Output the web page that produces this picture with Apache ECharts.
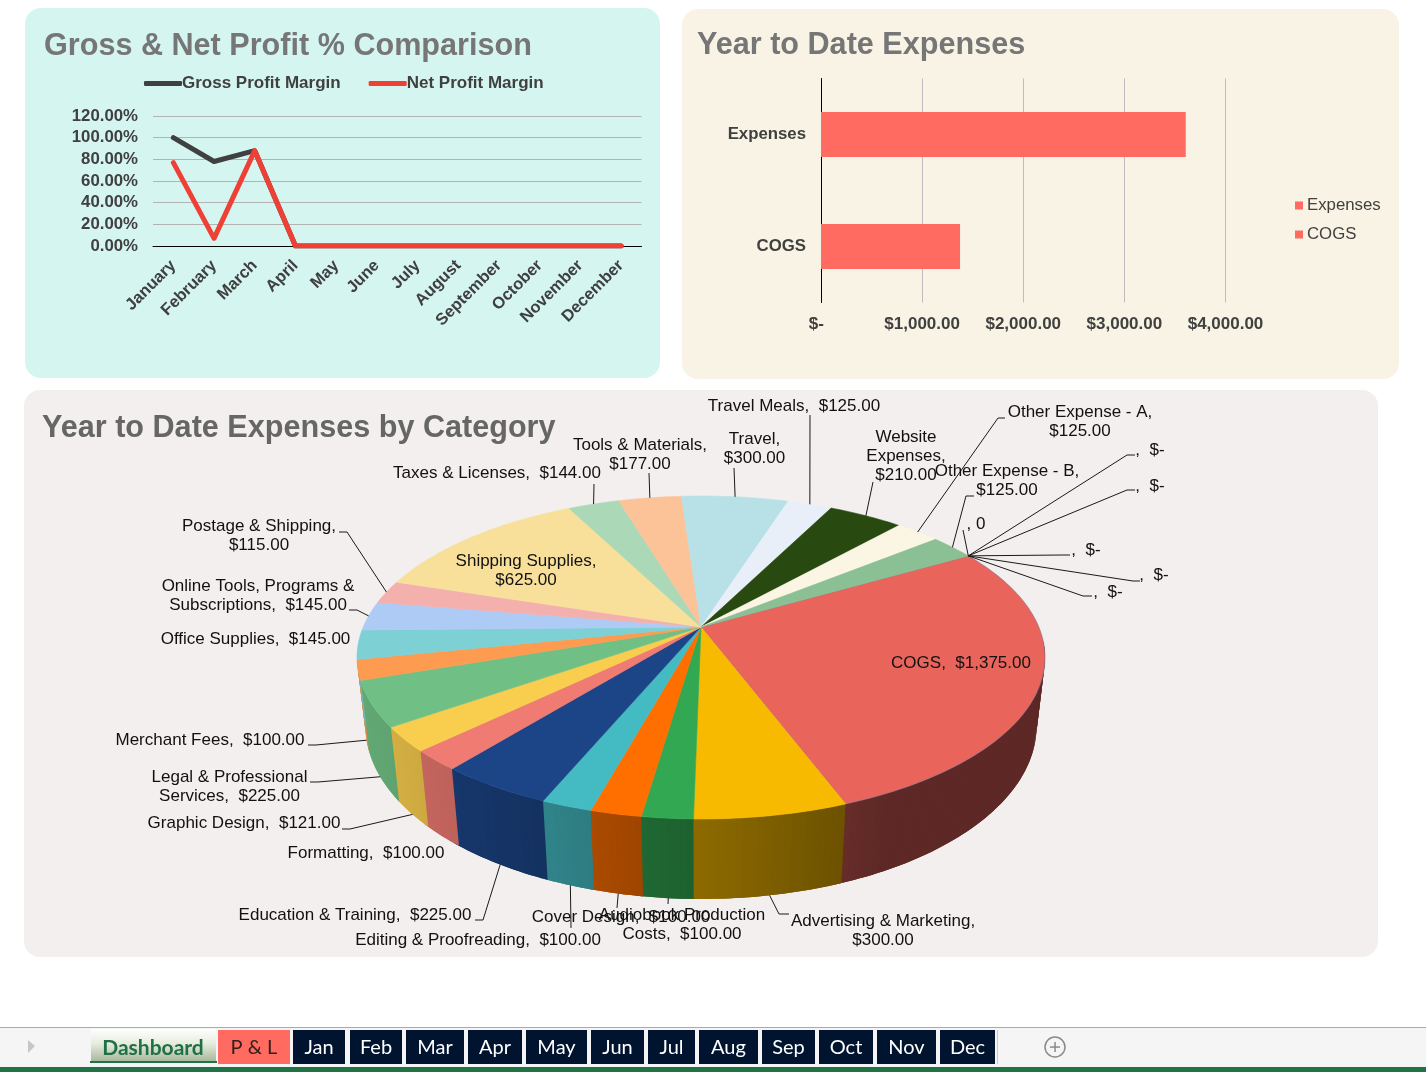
<!DOCTYPE html>
<html><head><meta charset="utf-8">
<style>html,body{margin:0;padding:0;background:#fff}#c{width:1426px;height:1072px}</style>
<script src="https://cdn.jsdelivr.net/npm/echarts@6/dist/echarts.min.js"></script>
</head><body><div id="c"></div>
<script>
// ---------- data ----------
const months = ['January','February','March','April','May','June','July','August','September','October','November','December'];
const grossMargin = [100,78,88,0,0,0,0,0,0,0,0,0];
const netMargin   = [77,7,88,0,0,0,0,0,0,0,0,0];
const ytdCategories = ['COGS','Expenses'];
const ytdCogs = [1375,'-'];
const ytdExpenses = ['-',3607];
const pieNames = ['COGS','Advertising & Marketing','Audiobook Production Costs','Cover Design','Editing & Proofreading','Education & Training','Formatting','Graphic Design','Legal & Professional Services','Merchant Fees','Office Supplies','Online Tools, Programs & Subscriptions','Postage & Shipping','Shipping Supplies','Taxes & Licenses','Tools & Materials','Travel','Travel Meals','Website Expenses','Other Expense - A','Other Expense - B','z1','z2','z3','z4','z5','z6'];
const pieValues = [1375,300,100,100,100,225,100,121,225,100,145,145,115,625,144,177,300,125,210,125,125,0,0,0,0,0,0];
const tabNames = ['Jan','Feb','Mar','Apr','May','Jun','Jul','Aug','Sep','Oct','Nov','Dec'];

// ---------- styling / layout (not data) ----------
const FONT = '"Liberation Sans", Arial, sans-serif';
const pieColors = ['#e9655c','#f7ba00','#32a852','#ff6f00','#44bac2','#1c4587','#ef7b72','#f9ce4e','#70c085','#fd9b50','#7dd0d4','#aecbf5','#f3b0ac','#f9e09a','#abd8b6','#fcc398','#b7e1e6','#e9eff9','#284a10','#fbf6e3','#8bbf94','#8bbf94','#8bbf94','#8bbf94','#8bbf94','#8bbf94','#8bbf94'];
const topDisc = {cx:701, cy:627, A:337.8, B:155.7, k:0.1889};
const botDisc = {cx:701, cy:694.2, A:329.8, B:167.1, k:0.184};
const START = -30, WALL_FROM = 5, WALL_TO = 170;
const total = pieValues.reduce((a,b)=>a+b,0);
const angles = []; { let a = START; for (const v of pieValues){ const s=v/total*360; angles.push([a,a+s]); a+=s; } }
function proj(d,deg){ const t=deg*Math.PI/180,u=Math.cos(t),v=Math.sin(t),w=1-d.k*v; return [d.cx+d.A*u/w, d.cy+d.B*v/w]; }
function arc(d,a0,a1){ const pts=[],n=Math.max(1,Math.ceil(Math.abs(a1-a0))); for(let i=0;i<=n;i++) pts.push(proj(d,a0+(a1-a0)*i/n)); return pts; }
function shade(hex,m){ const n=parseInt(hex.slice(1),16); const f=s=>Math.round(((n>>s)&255)*m); return `rgb(${f(16)},${f(8)},${f(0)})`; }
const wallShade = x => Math.max(0.40, Math.min(0.9, 0.875-(x-370)*0.000925));
// label text, centre x, first line y, elbow points of the leader
const pieLabels = [
 {t:['COGS,  $1,375.00'],x:961,y:663},
 {t:['Advertising & Marketing,','$300.00'],x:883,y:921,l:[[779,914],[789,914]]},
 {t:['Audiobook Production','Costs,  $100.00'],x:682,y:915,l:[[668,904]]},
 {t:['Cover Design,  $100.00'],x:621,y:917,l:[[617,908]]},
 {t:['Editing & Proofreading,  $100.00'],x:478,y:940,l:[[571,928]]},
 {t:['Education & Training,  $225.00'],x:355,y:915,l:[[483,920],[475,920]]},
 {t:['Formatting,  $100.00'],x:366,y:853},
 {t:['Graphic Design,  $121.00'],x:244,y:823,l:[[350,829],[342,829]]},
 {t:['Legal & Professional','Services,  $225.00'],x:229.5,y:777,l:[[318,782],[310,782]]},
 {t:['Merchant Fees,  $100.00'],x:210,y:740,l:[[316,745],[308,745]]},
 {t:['Office Supplies,  $145.00'],x:255.5,y:639},
 {t:['Online Tools, Programs &','Subscriptions,  $145.00'],x:258,y:586,l:[[357,610],[349,610]]},
 {t:['Postage & Shipping,','$115.00'],x:259,y:526,l:[[347,532],[339,532]]},
 {t:['Shipping Supplies,','$625.00'],x:526,y:561},
 {t:['Taxes & Licenses,  $144.00'],x:497,y:473,l:[[594,484]]},
 {t:['Tools & Materials,','$177.00'],x:640,y:445,l:[[649,473]]},
 {t:['Travel,','$300.00'],x:754.5,y:439,l:[[734,468]]},
 {t:['Travel Meals,  $125.00'],x:794,y:406,l:[[810,415]]},
 {t:['Website','Expenses,','$210.00'],x:906,y:437,l:[[873,482]]},
 {t:['Other Expense - A,','$125.00'],x:1080,y:412,l:[[998,418],[1005,418]]},
 {t:['Other Expense - B,','$125.00'],x:1007,y:471,l:[[966,496],[974,496]]},
 {t:[', 0'],x:976,y:524,l:[[963,530]]},
 {t:[',  $-'],x:1150,y:450,l:[[1127,455],[1135,455]]},
 {t:[',  $-'],x:1150,y:486,l:[[1127,490],[1135,490]]},
 {t:[',  $-'],x:1086,y:550,l:[[1062,555],[1070,555]]},
 {t:[',  $-'],x:1154,y:575,l:[[1133,581],[1140,581]]},
 {t:[',  $-'],x:1108,y:592,l:[[1083,596],[1092,596]]}
];
function anchor(i){ const mid=(angles[i][0]+angles[i][1])/2, back=Math.sin(mid*Math.PI/180)<0; return proj(back?topDisc:botDisc,mid); }

const tabRects = [[293,345],[350,402],[406,464],[468,522],[526,587],[591,644],[648,695],[699,758],[762,815],[819,873],[877,936],[940,995]];
const graphics = [
 {type:'rect',z:-10,shape:{x:25,y:8,width:635,height:370,r:16},style:{fill:'#d5f5f1'}},
 {type:'rect',z:-10,shape:{x:682,y:9,width:717,height:370,r:16},style:{fill:'#f8f3e4'}},
 {type:'rect',z:-10,shape:{x:24,y:390,width:1354,height:567,r:16},style:{fill:'#f2efee'}},
 {type:'rect',z:-10,shape:{x:0,y:1028,width:1426,height:39},style:{fill:'#f5f5f5'}},
 {type:'rect',z:-10,shape:{x:0,y:1027,width:1426,height:1},style:{fill:'#ababab'}},
 {type:'rect',z:-10,shape:{x:0,y:1067,width:1426,height:5},style:{fill:'#217346'}},
 {type:'polygon',shape:{points:[[28,1040],[35,1046],[28,1053]]},style:{fill:'#c6c6c6'}},
 {type:'rect',shape:{x:91,y:1029,width:125,height:32},style:{fill:new echarts.graphic.LinearGradient(0,0,0,1,[{offset:0,color:'#ffffff'},{offset:0.45,color:'#e6ecdf'},{offset:1,color:'#a9b99d'}])}},
 {type:'rect',shape:{x:90,y:1061,width:127,height:2},style:{fill:'#217346'}},
 {type:'text',style:{text:'Dashboard',x:153,y:1048,align:'center',verticalAlign:'middle',fill:'#1f7145',font:'bold 21px Lato, sans-serif'}},
 {type:'rect',shape:{x:218,y:1030,width:72,height:34},style:{fill:'#ff6b60'}},
 {type:'text',style:{text:'P & L',x:254,y:1048,align:'center',verticalAlign:'middle',fill:'#33201c',font:'20px Lato, sans-serif'}},
 {type:'rect',shape:{x:997,y:1030,width:1,height:34},style:{fill:'#c8c8c8'}},
 {type:'circle',shape:{cx:1055,cy:1047,r:10},style:{fill:'none',stroke:'#8a8a8a',lineWidth:1.5}},
 {type:'rect',shape:{x:1050,y:1046.3,width:10,height:1.5},style:{fill:'#8a8a8a'}},
 {type:'rect',shape:{x:1054.3,y:1042,width:1.5,height:10},style:{fill:'#8a8a8a'}}
];
tabNames.forEach((n,i)=>{ const [a,b]=tabRects[i];
 graphics.push({type:'rect',shape:{x:a,y:1030,width:b-a,height:34},style:{fill:'#00132f'}});
 graphics.push({type:'text',style:{text:n,x:(a+b)/2,y:1048,align:'center',verticalAlign:'middle',fill:'#fff',font:'20px Lato, sans-serif'}});
});

const chart = echarts.init(document.getElementById('c'),null,{renderer:'canvas'});
const pieData = pieNames.map((n,i)=>({name:n,value:[pieValues[i]]}));
chart.setOption({
 animation:false,
 backgroundColor:'#fff',
 graphic:{elements:graphics},
 title:[
  {text:'Gross & Net Profit % Comparison',left:39,top:26,textStyle:{fontFamily:FONT,fontWeight:'bold',fontSize:30.6,color:'#767676'}},
  {text:'Year to Date Expenses',left:692,top:25,textStyle:{fontFamily:FONT,fontWeight:'bold',fontSize:30.6,color:'#767676'}},
  {text:'Year to Date Expenses by Category',left:37,top:408,textStyle:{fontFamily:FONT,fontWeight:'bold',fontSize:30.6,color:'#666666'}}
 ],
 legend:[
  {left:139,top:70,data:['Gross Profit Margin','Net Profit Margin'],icon:'roundRect',itemWidth:38,itemHeight:5,itemGap:28,
   textStyle:{fontFamily:FONT,fontWeight:'bold',fontSize:17,color:'#404040',padding:[0,0,0,-5]}},
  {left:1290,top:192,orient:'vertical',data:['Expenses','COGS'],icon:'rect',itemWidth:8,itemHeight:8,itemGap:12,
   textStyle:{fontFamily:FONT,fontSize:16.8,color:'#404040',padding:[0,0,0,-1]}}
 ],
 grid:[
  {left:153,top:116,width:488.5,height:130},
  {left:821,top:78.5,width:404.5,height:224}
 ],
 xAxis:[
  {gridIndex:0,type:'category',data:months,boundaryGap:true,axisTick:{show:false},axisLine:{lineStyle:{color:'#000',width:1}},
   axisLabel:{rotate:45,interval:0,margin:17,fontFamily:FONT,fontWeight:'bold',fontSize:16.5,color:'#404040'}},
  {gridIndex:1,type:'value',min:0,max:4000,interval:1000,axisLine:{show:false},axisTick:{show:false},
   splitLine:{show:true,lineStyle:{color:'#bdbdbd'}},
   axisLabel:{margin:13.5,fontFamily:FONT,fontWeight:'bold',fontSize:17,color:'#404040',
    formatter:v=>v===0?'$-  ':'$'+v.toLocaleString('en-US')+'.00'}}
 ],
 yAxis:[
  {gridIndex:0,type:'value',min:0,max:120,interval:20,axisLine:{show:false},axisTick:{show:false},
   splitLine:{lineStyle:{color:'#b3b3b3'}},
   axisLabel:{margin:15,fontFamily:FONT,fontWeight:'bold',fontSize:16.8,color:'#404040',formatter:v=>v.toFixed(2)+'%'}},
  {gridIndex:1,type:'category',data:ytdCategories,axisTick:{show:false},axisLine:{show:true,lineStyle:{color:'#000'}},
   axisLabel:{margin:15,fontFamily:FONT,fontWeight:'bold',fontSize:16.8,color:'#404040'}}
 ],
 series:[
  {name:'Gross Profit Margin',type:'line',xAxisIndex:0,yAxisIndex:0,data:grossMargin,showSymbol:false,symbol:'none',
   lineStyle:{color:'#404040',width:5,cap:'round',join:'round'},itemStyle:{color:'#404040'}},
  {name:'Net Profit Margin',type:'line',xAxisIndex:0,yAxisIndex:0,data:netMargin,showSymbol:false,symbol:'none',
   lineStyle:{color:'#ee4035',width:5,cap:'round',join:'round'},itemStyle:{color:'#ee4035'}},
  {name:'Expenses',type:'bar',xAxisIndex:1,yAxisIndex:1,stack:'ytd',barWidth:45,data:ytdExpenses,itemStyle:{color:'#ff6b60'}},
  {name:'COGS',type:'bar',xAxisIndex:1,yAxisIndex:1,stack:'ytd',barWidth:45,data:ytdCogs,itemStyle:{color:'#ff6b60'}},
  // side walls of the 3D pie: shaded strips painted in arc order, each overlapping
  // the next so that no background shows through the seams
  {type:'custom',coordinateSystem:'none',z:3,data:pieData,silent:true,renderItem(p,api){
    const i=p.dataIndex, kids=[];
    if(!api.value(0)) return {type:'group',children:kids};
    const a0=Math.max(angles[i][0],WALL_FROM), a1=Math.min(angles[i][1],WALL_TO);
    if(a1<=a0) return {type:'group',children:kids};
    const t=arc(topDisc,a0,a1+1), b=arc(botDisc,a0,a1+1), last=t.length-1;
    for(let j=0;j<last;j++){
      const e=Math.min(j+2,last);
      const c=shade(pieColors[i],wallShade((b[j][0]+b[j+1][0])/2));
      kids.push({type:'polygon',shape:{points:[t[j],t[j+1],t[e],b[e],b[j+1],b[j]]},style:{fill:c}});
    }
    return {type:'group',children:kids};
  }},
  // top face of the 3D pie
  {type:'custom',coordinateSystem:'none',z:4,data:pieData,silent:true,renderItem(p,api){
    const i=p.dataIndex; if(!api.value(0)) return {type:'group',children:[]};
    const [a0,a1]=angles[i];
    const pts=[[topDisc.cx,topDisc.cy]].concat(arc(topDisc,a0,a1));
    return {type:'polygon',shape:{points:pts},style:{fill:pieColors[i],stroke:i===0?'#7c6f96':pieColors[i],lineWidth:0.6}};
  }},
  // data labels and leader lines
  {type:'custom',coordinateSystem:'none',z:5,data:pieData,silent:true,renderItem(p){
    const i=p.dataIndex, L=pieLabels[i], kids=[];
    if(L.l) kids.push({type:'polyline',shape:{points:[anchor(i)].concat(L.l)},style:{fill:null,stroke:'#1a1a1a',lineWidth:1}});
    L.t.forEach((s,j)=>kids.push({type:'text',style:{text:s,x:L.x,y:L.y+j*19,align:'center',verticalAlign:'middle',fill:'#111',font:'17px '+FONT}}));
    return {type:'group',children:kids};
  }}
 ]
});
</script></body></html>
